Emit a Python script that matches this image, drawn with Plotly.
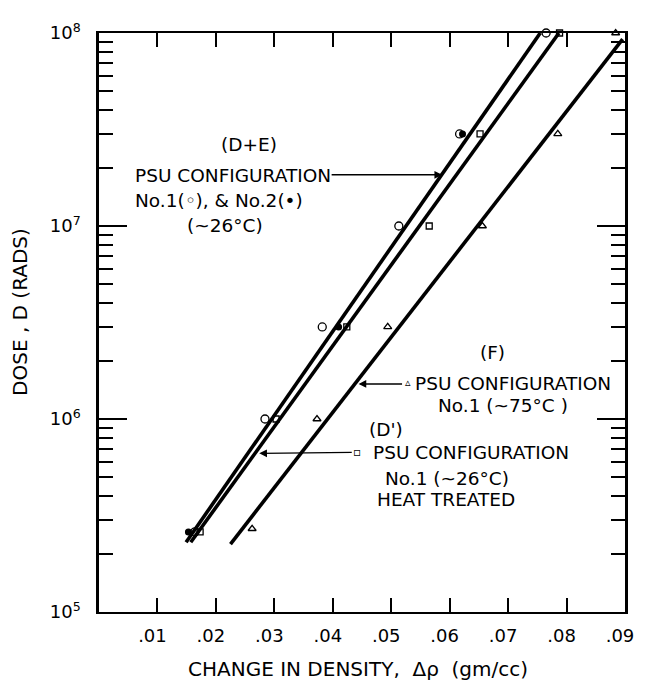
import plotly.graph_objects as go

# ---- data ----
# PSU configuration No.1 (open circles), ~26 C
no1_x = [0.0164, 0.0284, 0.0382, 0.0513, 0.0617, 0.0765]
no1_dose = [2.6e5, 1.0e6, 3.0e6, 1.0e7, 3.0e7, 1.0e8]
# PSU configuration No.2 (filled circles), ~26 C
no2_x = [0.0153, 0.0410, 0.0622]
no2_dose = [2.6e5, 3.0e6, 3.0e7]
# PSU configuration No.1 heat treated (squares), ~26 C  (D')
ht_x = [0.0173, 0.0303, 0.0424, 0.0565, 0.0652, 0.0788]
ht_dose = [2.6e5, 1.0e6, 3.0e6, 1.0e7, 3.0e7, 1.0e8]
# PSU configuration No.1 at ~75 C (triangles)  (F)
hot_x = [0.0262, 0.0373, 0.0494, 0.0656, 0.0785, 0.0884]
hot_dose = [2.7e5, 1.0e6, 3.0e6, 1.0e7, 3.0e7, 1.0e8]

# fitted straight lines (end points)
fit_de_x = [0.0149, 0.0755]
fit_de_dose = [2.3e5, 1.0e8]
fit_dp_x = [0.0157, 0.0787]
fit_dp_dose = [2.3e5, 1.0e8]
fit_f_x = [0.0225, 0.0896]
fit_f_dose = [2.25e5, 9.3e7]

x_tickvals = [0.01, 0.02, 0.03, 0.04, 0.05, 0.06, 0.07, 0.08, 0.09]
x_ticktext = [".01", ".02", ".03", ".04", ".05", ".06", ".07", ".08", ".09"]
y_tickvals = [1e5, 1e6, 1e7, 1e8]
y_ticktext = ["10<sup>5</sup>", "10<sup>6</sup>", "10<sup>7</sup>", "10<sup>8</sup>"]
y_minor = [k * 10 ** n for n in (5, 6, 7) for k in range(2, 10)]

FONT = "DejaVu Sans"
OFF = 8                      # page body margin
W, H = 646 - OFF, 685 - OFF
L, R, T, B = 99, 634, 28, 612  # plot area in screenshot pixels

def px(x):
    return (x - L) / (R - L)

def py(y):
    return (B - y) / (B - T)

fig = go.Figure()

for xs, ds in [(fit_de_x, fit_de_dose), (fit_dp_x, fit_dp_dose), (fit_f_x, fit_f_dose)]:
    fig.add_trace(go.Scatter(x=xs, y=ds, mode="lines",
                             line=dict(color="black", width=3.6),
                             showlegend=False, hoverinfo="skip"))

fig.add_trace(go.Scatter(x=no1_x, y=no1_dose, mode="markers", cliponaxis=False,
                         marker=dict(symbol="circle-open", size=8, color="black",
                                     line=dict(width=1.3)), showlegend=False))
fig.add_trace(go.Scatter(x=no2_x, y=no2_dose, mode="markers", cliponaxis=False,
                         marker=dict(symbol="circle", size=7, color="black"),
                         showlegend=False))
fig.add_trace(go.Scatter(x=ht_x, y=ht_dose, mode="markers", cliponaxis=False,
                         marker=dict(symbol="square-open", size=6, color="black",
                                     line=dict(width=1.3)), showlegend=False))
fig.add_trace(go.Scatter(x=hot_x, y=hot_dose, mode="markers", cliponaxis=False,
                         marker=dict(symbol="triangle-up-open", size=7, color="black",
                                     line=dict(width=1.3)), showlegend=False))

tf = dict(family=FONT, size=18.5, color="black")
ann = []

def text(s, x, y, anchor="left", size=None):
    f = dict(tf)
    if size:
        f["size"] = size
    ann.append(dict(text=s, x=px(x), y=py(y), xref="paper", yref="paper",
                    xanchor=anchor, yanchor="middle", showarrow=False, font=f))

def arrow(tx, ty, hx, hy):
    ann.append(dict(text="", x=px(hx), y=py(hy), xref="paper", yref="paper",
                    ax=tx - hx, ay=ty - hy, showarrow=True, arrowhead=2,
                    arrowsize=1.1, arrowwidth=1.4, arrowcolor="black",
                    font=dict(family=FONT, size=12)))

text("(D+E)", 252, 140, anchor="center")
text("PSU CONFIGURATION", 134, 172)
text("No.1(\u25e6), &amp; No.2(\u2022)", 134, 197)
text("(~26°C)", 186, 222)
arrow(336, 171, 448, 171)

text("(F)", 499, 350, anchor="center")
text("▵", 413, 381, anchor="center", size=11)
text("PSU CONFIGURATION", 418, 382)
text("No.1 (~75°C )", 442, 404)
arrow(408, 382, 363, 382)

text("(D')", 372, 428)
text("▫", 361, 451, anchor="center", size=12)
text("PSU CONFIGURATION", 376, 451)
text("No.1 (~26°C)", 388, 477)
text("HEAT TREATED", 380, 499)
arrow(356, 451, 262, 452)

# axis titles
ann.append(dict(text="DOSE , D (RADS)", x=px(18), y=py(309), xref="paper", yref="paper",
                textangle=-90, showarrow=False, xanchor="center", yanchor="middle",
                font=dict(family=FONT, size=20, color="black")))
ann.append(dict(text="CHANGE IN DENSITY,\u00a0 Δρ \u00a0(gm/cc)", x=px(362), y=py(669),
                xref="paper", yref="paper", showarrow=False,
                xanchor="center", yanchor="middle",
                font=dict(family=FONT, size=20, color="black")))

fig.update_layout(
    width=W, height=H,
    margin=dict(l=L - OFF, r=W - (R - OFF), t=T - OFF, b=H - (B - OFF)),
    paper_bgcolor="white", plot_bgcolor="white",
    annotations=ann,
    xaxis=dict(range=[0, 0.09], tickvals=x_tickvals, ticktext=x_ticktext,
               ticks="inside", ticklen=14, tickwidth=2, tickcolor="black",
               showline=True, linewidth=2, linecolor="black", mirror="ticks",
               showgrid=False, zeroline=False, ticklabelstandoff=6,
               ticklabelshift=-5,
               tickfont=dict(family=FONT, size=18, color="black")),
    yaxis=dict(type="log", range=[5, 8], tickvals=y_tickvals, ticktext=y_ticktext,
               ticks="inside", ticklen=28, tickwidth=1.6, tickcolor="black",
               showline=True, linewidth=2.5, linecolor="black", mirror="ticks",
               showgrid=False, zeroline=False, ticklabelstandoff=12,
               minor=dict(tickvals=y_minor, ticks="inside", ticklen=14,
                          tickwidth=1.6, tickcolor="black", showgrid=False),
               tickfont=dict(family=FONT, size=18, color="black")),
)

fig.write_html("out.html")
